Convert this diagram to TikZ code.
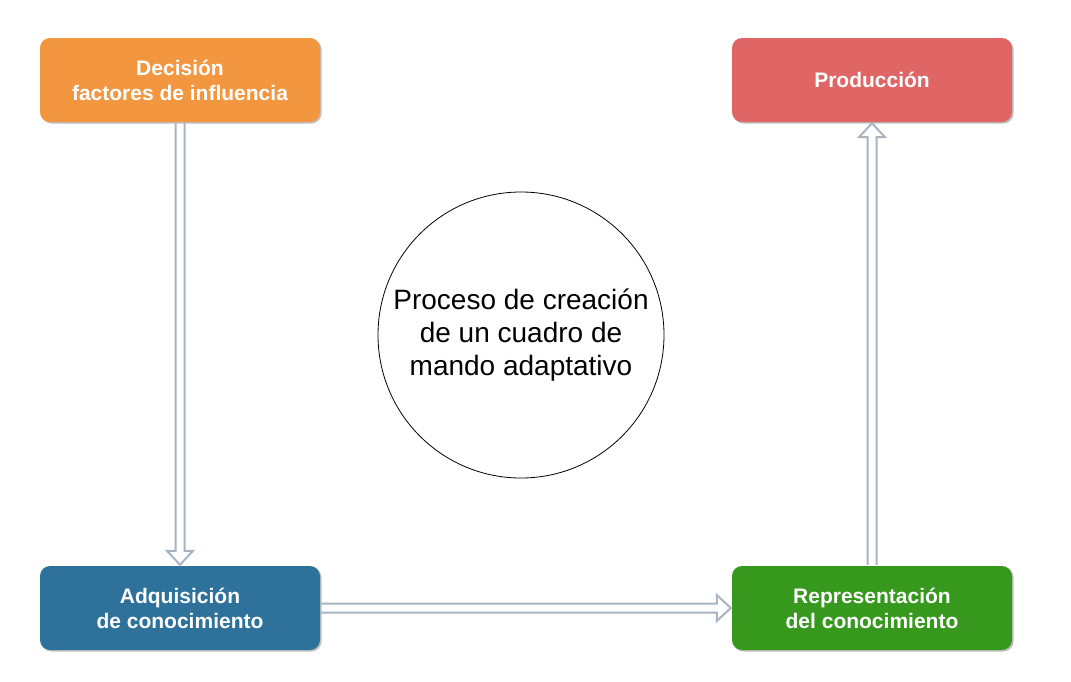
\documentclass[tikz,border=0pt]{standalone}
\usepackage{fontspec}
\setmainfont{Liberation Sans}
\usetikzlibrary{calc}
\definecolor{corange}{HTML}{F39640}
\definecolor{cred}{HTML}{E06666}
\definecolor{cblue}{HTML}{2E729B}
\definecolor{cgreen}{HTML}{36981C}
\definecolor{carrow}{HTML}{A8B4BF}
\tikzset{
  box/.style={rounded corners=10pt, minimum width=280pt, minimum height=84pt, inner sep=0pt,
    align=center, text=white, font=\fontsize{21}{25}\selectfont\bfseries,
    preaction={fill=black!25, transform canvas={shift={(1.5pt,-1.5pt)}}}},
  harrow/.style={draw=carrow, line width=2pt, line join=miter},
}
\begin{document}
\begin{tikzpicture}[x=1pt,y=-1pt]
\useasboundingbox[fill=white] (0,0) rectangle (1071,681);
\node[box, fill=corange] (o) at (180,80) {Decisión\\factores de influencia};
\node[box, fill=cred] (r) at (872,80) {Producción};
\node[box, fill=cblue] (b) at (180,608) {Adquisición\\de conocimiento};
\node[box, fill=cgreen] (g) at (872,608) {Representación\\del conocimiento};
\node[circle, draw=black, line width=0.8pt, minimum size=286pt, inner sep=0pt, align=center,
  font=\fontsize{28}{33}\selectfont] (c) at (521,335) {Proceso de creación\\de un cuadro de\\mando adaptativo};
% down arrow
\draw[harrow] ($(o.south)+(-4.5,1)$) -- ($(b.north)+(-4.5,-15)$) -- ($(b.north)+(-13,-15)$) -- ($(b.north)+(0,-1)$) -- ($(b.north)+(13,-15)$) -- ($(b.north)+(4.5,-15)$) -- ($(o.south)+(4.5,1)$);
% right arrow
\draw[harrow] ($(b.east)+(1,-4.5)$) -- ($(g.west)+(-15,-4.5)$) -- ($(g.west)+(-15,-13)$) -- ($(g.west)+(-1,0)$) -- ($(g.west)+(-15,13)$) -- ($(g.west)+(-15,4.5)$) -- ($(b.east)+(1,4.5)$);
% up arrow
\draw[harrow] ($(g.north)+(-4.5,-1)$) -- ($(r.south)+(-4.5,15)$) -- ($(r.south)+(-13,15)$) -- ($(r.south)+(0,1)$) -- ($(r.south)+(13,15)$) -- ($(r.south)+(4.5,15)$) -- ($(g.north)+(4.5,-1)$);
\end{tikzpicture}
\end{document}
